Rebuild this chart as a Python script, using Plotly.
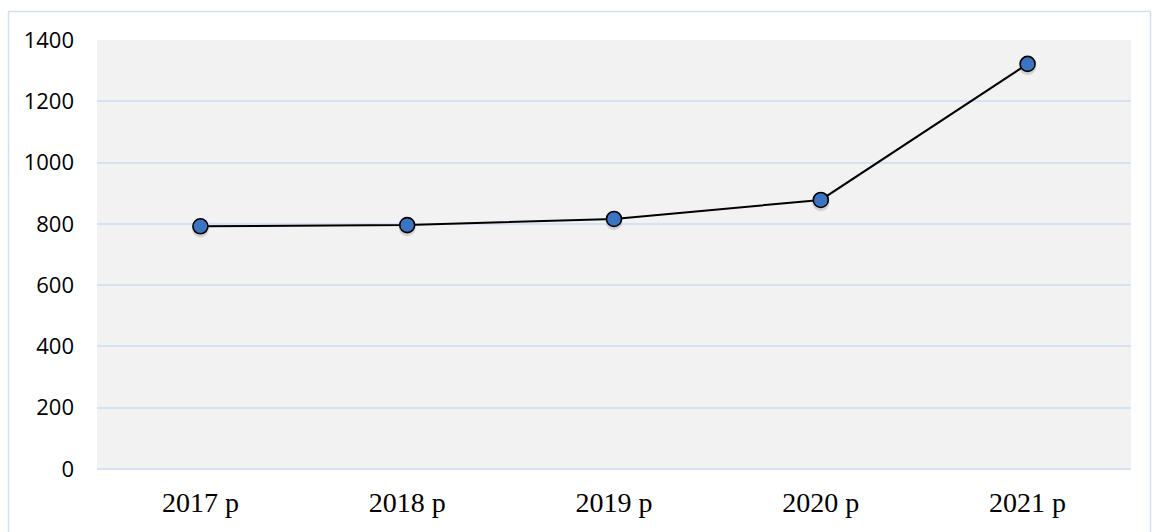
import plotly.graph_objects as go

years = ["2017 p", "2018 p", "2019 p", "2020 p", "2021 p"]
values = [792, 796, 816, 878, 1322]
y_ticks = [0, 200, 400, 600, 800, 1000, 1200, 1400]

W, H = 1158, 532
ml, mr, mt, mb = 97, 27, 40, 63

fig = go.Figure()
# soft drop shadow under the markers
fig.add_trace(go.Scatter(
    x=years, y=[v - 9 for v in values], mode="markers",
    marker=dict(size=17, color="rgba(0,0,0,0.13)", line=dict(width=0)),
    hoverinfo="skip",
))
fig.add_trace(go.Scatter(
    x=years, y=values, mode="lines+markers",
    line=dict(color="black", width=2),
    marker=dict(size=15, color="#3b74c0", line=dict(color="black", width=1.6)),
    hoverinfo="x+y",
))

pw = W - ml - mr
ph = H - mt - mb
# light blue frame around the whole chart
fig.add_shape(type="rect", xref="paper", yref="paper",
              x0=(8.5 - ml) / pw, x1=(1150.5 - ml) / pw,
              y0=(H - mb - 540) / ph, y1=(H - mb - 11.5) / ph,
              line=dict(color="#d3dff0", width=1.5), fillcolor="rgba(0,0,0,0)", layer="below")

fig.update_layout(
    width=W, height=H,
    margin=dict(l=ml, r=mr, t=mt, b=mb),
    paper_bgcolor="white", plot_bgcolor="#f2f2f2",
    showlegend=False,
    xaxis=dict(type="category", range=[-0.5, 4.5], showgrid=False, zeroline=False,
               showline=False, ticks="", ticklabelstandoff=14,
               tickfont=dict(family="Liberation Serif", size=28, color="black")),
    yaxis=dict(range=[0, 1400], tickvals=y_ticks, showgrid=True, gridcolor="#d6e2f3",
               gridwidth=1.5, zeroline=True, zerolinecolor="#d6e2f3", zerolinewidth=1.5,
               showline=False, ticks="", ticklabelstandoff=22,
               tickfont=dict(family="Open Sans", size=22, color="black")),
)

fig.write_html("out.html")
